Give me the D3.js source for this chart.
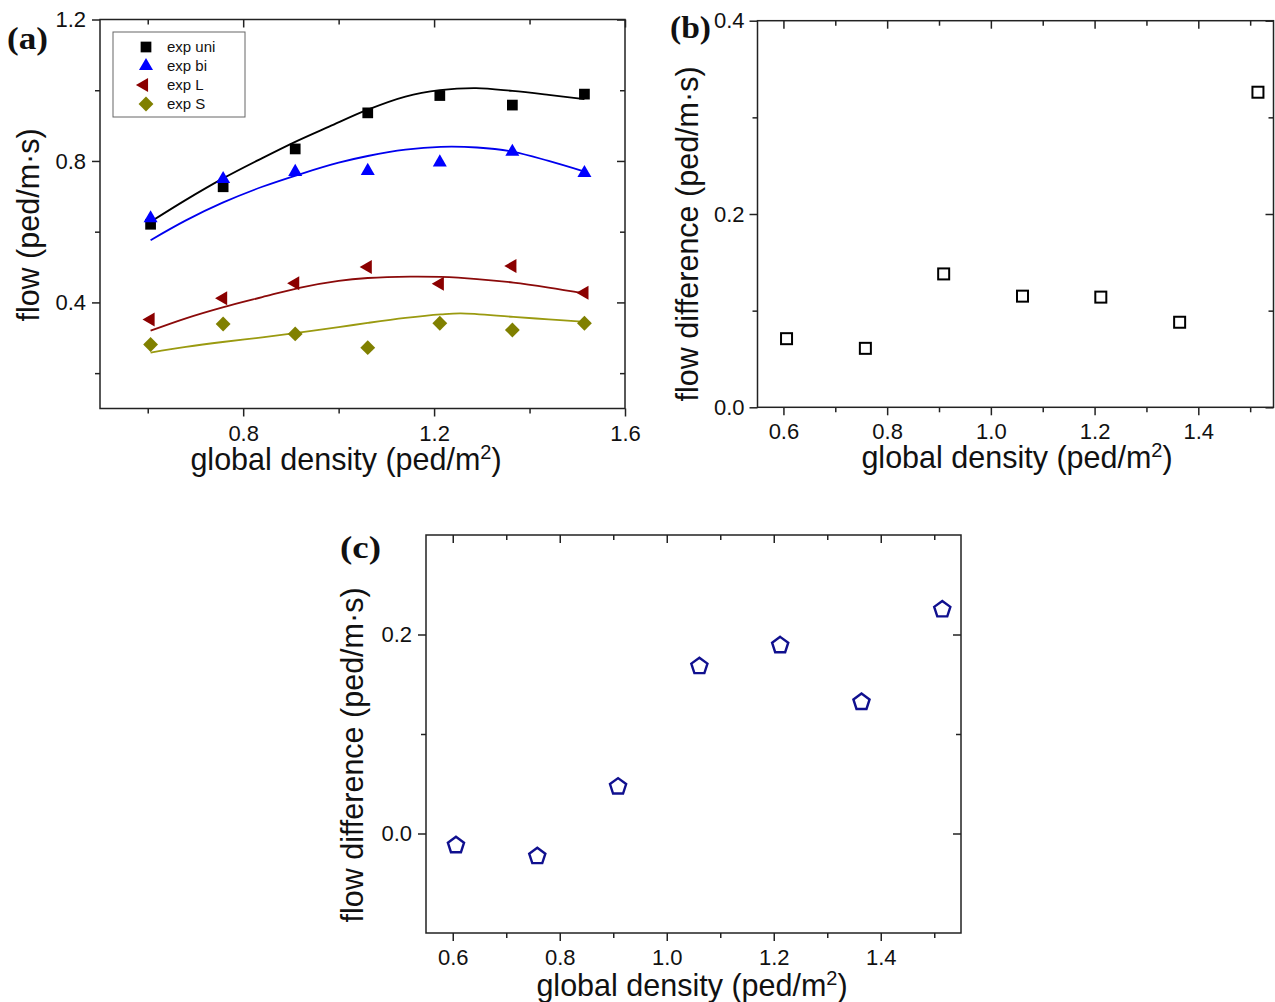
<!DOCTYPE html>
<html lang="en">
<head>
    <meta charset="UTF-8">
    <title>flow vs global density</title>
    <script src="https://d3js.org/d3.v7.min.js"></script>
    <style>
        body { margin: 0; background: #fff; }
        text { font-family: "Liberation Sans", Arial, sans-serif; fill: #111; }
        .panel-letter { font-family: "Liberation Serif", "Times New Roman", serif; font-weight: bold; font-size: 31px; }
        .axis-title { font-size: 30.5px; }
    </style>
</head>
<body>
<svg id="chart" width="1275" height="1002"></svg>
<script>
    // densities shared by all panels
    const density = [0.606, 0.758, 0.909, 1.061, 1.212, 1.364, 1.515];

    // panel (a) measured flows
    const expUni = [0.621, 0.727, 0.834, 0.936, 0.985, 0.958, 0.989];
    const expBi  = [0.638, 0.749, 0.769, 0.772, 0.796, 0.826, 0.766];
    const expL   = [0.352, 0.412, 0.454, 0.500, 0.453, 0.503, 0.427];
    const expS   = [0.281, 0.339, 0.311, 0.272, 0.341, 0.322, 0.341];

    // panel (a) fitted curves
    const fitUni = [[0.606,0.628],[0.68,0.690],[0.757,0.750],[0.84,0.808],[0.909,0.854],[0.98,0.897],
                    [1.061,0.945],[1.14,0.982],[1.212,1.000],[1.288,1.006],[1.364,0.998],[1.44,0.987],[1.515,0.975]];
    const fitBi  = [[0.606,0.576],[0.68,0.632],[0.757,0.682],[0.84,0.727],[0.92,0.763],[1.0,0.795],
                    [1.061,0.814],[1.14,0.832],[1.214,0.840],[1.29,0.838],[1.366,0.826],[1.44,0.800],[1.517,0.769]];
    const fitL   = [[0.606,0.320],[0.68,0.355],[0.757,0.386],[0.84,0.415],[0.92,0.442],[1.0,0.461],
                    [1.061,0.469],[1.15,0.473],[1.214,0.472],[1.29,0.466],[1.366,0.456],[1.44,0.442],[1.517,0.425]];
    const fitS   = [[0.606,0.258],[0.68,0.274],[0.757,0.288],[0.84,0.301],[0.92,0.315],[1.0,0.330],
                    [1.061,0.342],[1.14,0.356],[1.214,0.366],[1.256,0.369],[1.366,0.359],[1.44,0.352],[1.517,0.345]];

    // panels (b) and (c) flow differences
    const diffB = [0.071, 0.061, 0.138, 0.115, 0.114, 0.088, 0.326];
    const diffC = [-0.011, -0.022, 0.048, 0.169, 0.190, 0.133, 0.226];

    const legendNames = ["exp uni", "exp bi", "exp L", "exp S"];

    const svg = d3.select("#chart");
    const fmt = d3.format(".1f");

    function panel(cfg) {
        const x = d3.scaleLinear().domain(cfg.xDom).range(cfg.xRange);
        const y = d3.scaleLinear().domain(cfg.yDom).range(cfg.yRange);
        const [left, right] = cfg.xRange;
        const [bottom, top] = cfg.yRange;
        const g = svg.append("g");

        const axes = [
            [d3.axisBottom(x).tickValues(cfg.xMajor).tickSize(8).tickPadding(cfg.padB).tickFormat(fmt), `translate(0,${bottom})`],
            [d3.axisBottom(x).tickValues(cfg.xMinor).tickSize(5).tickFormat(""), `translate(0,${bottom})`],
            [d3.axisTop(x).tickValues(cfg.xMajor).tickSize(-8).tickFormat(""), `translate(0,${top})`],
            [d3.axisTop(x).tickValues(cfg.xMinor).tickSize(-5).tickFormat(""), `translate(0,${top})`],
            [d3.axisLeft(y).tickValues(cfg.yMajor).tickSize(8).tickPadding(cfg.padL).tickFormat(fmt), `translate(${left},0)`],
            [d3.axisLeft(y).tickValues(cfg.yMinor).tickSize(5).tickFormat(""), `translate(${left},0)`],
            [d3.axisRight(y).tickValues(cfg.yMajor).tickSize(-8).tickFormat(""), `translate(${right},0)`],
            [d3.axisRight(y).tickValues(cfg.yMinor).tickSize(-5).tickFormat(""), `translate(${right},0)`]
        ];
        axes.forEach(([ax, tr]) => {
            g.append("g")
                .attr("transform", tr)
                .call(ax)
                .attr("font-size", cfg.tickFont)
                .attr("font-family", "Liberation Sans, Arial, sans-serif")
                .attr("color", "#222")
                .call(a => a.select(".domain").remove())
                .call(a => a.selectAll("line").attr("stroke-width", 1.5));
        });

        g.append("rect")
            .attr("x", left).attr("y", top)
            .attr("width", right - left).attr("height", bottom - top)
            .attr("fill", "none").attr("stroke", "#222").attr("stroke-width", 1.5);

        // axis titles
        const xt = g.append("text")
            .attr("class", "axis-title")
            .attr("text-anchor", "middle")
            .attr("font-size", cfg.xTitleSize)
            .attr("x", cfg.xTitle[0]).attr("y", cfg.xTitle[1]);
        xt.append("tspan").text("global density (ped/m");
        xt.append("tspan").attr("dy", -11).attr("font-size", 20).text("2");
        xt.append("tspan").attr("dy", 11).text(")");

        g.append("text")
            .attr("class", "axis-title")
            .attr("text-anchor", "middle")
            .attr("transform", `translate(${cfg.yTitle[0]},${cfg.yTitle[1]}) rotate(-90)`)
            .text(cfg.yText);

        g.append("text")
            .attr("class", "panel-letter")
            .attr("x", cfg.letter[0]).attr("y", cfg.letter[1])
            .attr("textLength", 41).attr("lengthAdjust", "spacingAndGlyphs")
            .text(cfg.letterText);

        return { g, x, y };
    }

    // ---------- panel (a)
    const pa = panel({
        xDom: [0.5, 1.6], xRange: [100, 625],
        yDom: [0.1, 1.2], yRange: [408.5, 19.5],
        xMajor: [0.8, 1.2, 1.6], xMinor: [0.6, 1.0, 1.4],
        yMajor: [0.4, 0.8, 1.2], yMinor: [0.2, 0.6, 1.0],
        padB: 9, padL: 6, tickFont: 22,
        xTitle: [346, 470], xTitleSize: 31.5, yTitle: [39, 225], yText: "flow (ped/m·s)",
        letter: [7, 49], letterText: "(a)"
    });

    const series = [
        { vals: expUni, fit: fitUni, color: "#000000", line: "#000000", sym: d3.symbolSquare, size: 115, rot: 0 },
        { vals: expBi,  fit: fitBi,  color: "#0000ff", line: "#0000ee", sym: d3.symbolTriangle, size: 85, rot: 0 },
        { vals: expL,   fit: fitL,   color: "#8b0000", line: "#8b0a0a", sym: d3.symbolTriangle, size: 85, rot: -90 },
        { vals: expS,   fit: fitS,   color: "#808000", line: "#9a9a10", sym: d3.symbolSquare, size: 110, rot: 45 }
    ];

    const fitLine = d3.line()
        .x(d => pa.x(d[0]))
        .y(d => pa.y(d[1]))
        .curve(d3.curveCatmullRom);

    series.forEach(s => {
        pa.g.append("path")
            .attr("d", fitLine(s.fit))
            .attr("fill", "none")
            .attr("stroke", s.line)
            .attr("stroke-width", 1.8);
    });

    series.forEach(s => {
        pa.g.selectAll(null)
            .data(s.vals)
            .enter()
            .append("path")
            .attr("d", d3.symbol().type(s.sym).size(s.size))
            .attr("transform", (d, i) => `translate(${pa.x(density[i])},${pa.y(d)}) rotate(${s.rot})`)
            .attr("fill", s.color);
    });

    // legend
    const leg = pa.g.append("g").attr("transform", "translate(113,32)");
    leg.append("rect")
        .attr("width", 132).attr("height", 85)
        .attr("fill", "#fff").attr("stroke", "#666").attr("stroke-width", 1);
    legendNames.forEach((name, i) => {
        const s = series[i];
        const cy = 15 + i * 19;
        leg.append("path")
            .attr("d", d3.symbol().type(s.sym).size(s.size))
            .attr("transform", `translate(${s.rot === -90 ? 31 : 33},${cy}) rotate(${s.rot})`)
            .attr("fill", s.color);
        leg.append("text")
            .attr("x", 54).attr("y", cy)
            .attr("dy", "0.35em")
            .attr("font-size", 15)
            .text(name);
    });

    // ---------- panel (b)
    const pb = panel({
        xDom: [0.55, 1.545], xRange: [757.5, 1273.5],
        yDom: [0, 0.4], yRange: [407.3, 20.7],
        xMajor: [0.6, 0.8, 1.0, 1.2, 1.4], xMinor: [0.7, 0.9, 1.1, 1.3, 1.5],
        yMajor: [0.0, 0.2, 0.4], yMinor: [0.1, 0.3],
        padB: 8, padL: 5, tickFont: 22,
        xTitle: [1017, 468], xTitleSize: 31.5, yTitle: [698, 234], yText: "flow difference (ped/m·s)",
        letter: [670, 38], letterText: "(b)"
    });

    pb.g.selectAll(null)
        .data(diffB)
        .enter()
        .append("rect")
        .attr("x", (d, i) => pb.x(density[i]) - 5.5)
        .attr("y", d => pb.y(d) - 5.5)
        .attr("width", 11).attr("height", 11)
        .attr("fill", "none").attr("stroke", "#000").attr("stroke-width", 2);

    // ---------- panel (c)
    const pc = panel({
        xDom: [0.55, 1.55], xRange: [426, 961],
        yDom: [-0.1, 0.3], yRange: [933, 535],
        xMajor: [0.6, 0.8, 1.0, 1.2, 1.4], xMinor: [0.7, 0.9, 1.1, 1.3, 1.5],
        yMajor: [0.0, 0.2], yMinor: [0.1],
        padB: 8, padL: 6, tickFont: 22,
        xTitle: [692, 996], xTitleSize: 32, yTitle: [363, 755], yText: "flow difference (ped/m·s)",
        letter: [340, 558], letterText: "(c)"
    });

    const pentagon = d3.range(5).map(k => {
        const a = -Math.PI / 2 + k * 2 * Math.PI / 5;
        return [8.5 * Math.cos(a), 8.5 * Math.sin(a) + 0.9];
    });

    pc.g.selectAll(null)
        .data(diffC)
        .enter()
        .append("path")
        .attr("d", "M" + pentagon.join("L") + "Z")
        .attr("transform", (d, i) => `translate(${pc.x(density[i])},${pc.y(d)})`)
        .attr("fill", "none").attr("stroke", "#10108f").attr("stroke-width", 2.4);
</script>
</body>
</html>
